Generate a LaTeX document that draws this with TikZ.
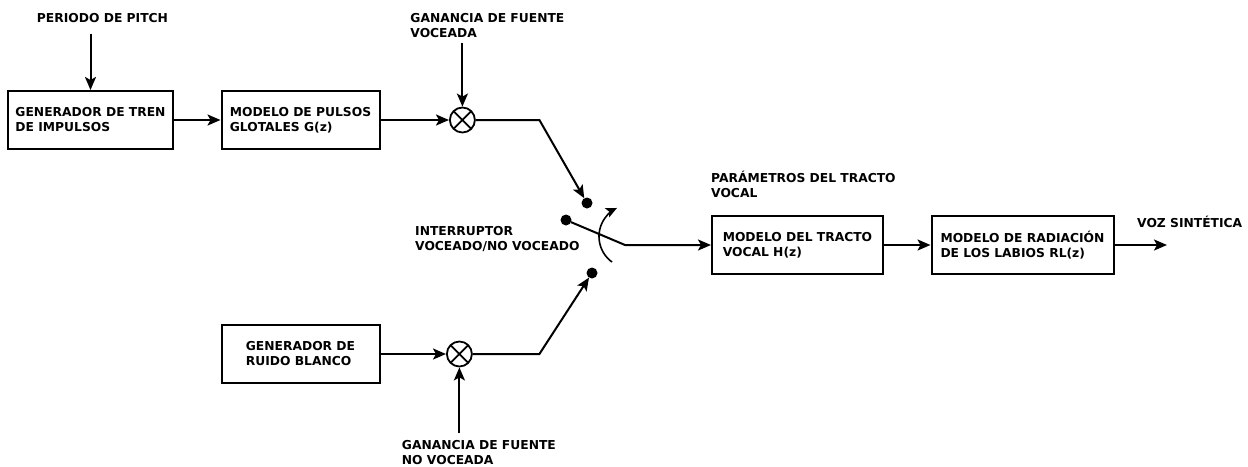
\documentclass[tikz,border=0pt]{standalone}
\usepackage{fontspec}
\setmainfont{DejaVu Sans}
\usetikzlibrary{positioning}
\usetikzlibrary{arrows.meta}
\newcommand{\lblfont}{\fontsize{12.3}{15}\selectfont\bfseries}

\begin{document}
\begin{tikzpicture}[
        x = 1pt,
        y = -1pt,
        blk/.style = {
            draw,
            line width = 2pt,
            align = left,
            font = \lblfont,
            minimum width = #1,
            minimum height = 58pt,
            inner sep = 4pt
        },
        blk/.default = 160pt,
        mul/.style = {
            draw,
            circle,
            line width = 1.8pt,
            minimum size = 25pt,
            inner sep = 0pt,
            path picture = {
                \draw[line width = 1.8pt]
                    (path picture bounding box.north west) -- (path picture bounding box.south east)
                    (path picture bounding box.north east) -- (path picture bounding box.south west);
            }
        },
        swdot/.style = {
            circle,
            fill,
            minimum size = 11pt,
            inner sep = 0pt,
            outer sep = 0pt
        },
        lbl/.style = {font = \lblfont, align = left, inner sep = 0pt},
        arr/.style = {line width = 2pt, -{Stealth[length = 13pt, width = 11pt, inset = 3pt]}}
            ]
            \useasboundingbox (0,0) rectangle (1248,466);

            % fuentes
            \node[blk=165pt] (gen) at (90.5,120) {GENERADOR DE TREN\\DE IMPULSOS};
            \node[blk=158pt, right=46.5pt of gen] (glot) {MODELO DE PULSOS\\GLOTALES G(z)};
            \node[mul, right=68.5pt of glot] (mulv) {};
            \node[blk=158pt, below=174pt of glot] (ruido) {GENERADOR DE\\RUIDO BLANCO};
            \node[mul, right=65.5pt of ruido] (mulu) {};

            % tracto y labios
            \node[blk=171pt] (tracto) at (797.5,245) {MODELO DEL TRACTO\\VOCAL H(z)};
            \node[blk=182pt, right=46.5pt of tracto] (labios) {MODELO DE RADIACIÓN\\DE LOS LABIOS RL(z)};

            % etiquetas
            \node[lbl, above=67.5pt of gen, xshift=12pt] (pitch) {PERIODO DE PITCH};
            \node[lbl, above=69pt of mulv, xshift=25pt] (gv) {GANANCIA DE FUENTE\\VOCEADA};
            \node[lbl, below=73pt of mulu, xshift=19.5pt] (gu) {GANANCIA DE FUENTE\\NO VOCEADA};
            \node[lbl, anchor=north west] (swlbl) at (415,226.5) {INTERRUPTOR\\VOCEADO/NO VOCEADO};
            \node[lbl, above right=17.5pt and 0pt of tracto.north west] (param) {PARÁMETROS DEL TRACTO\\VOCAL};
            \node[lbl, anchor=base west] (voz) at (1137,227.5) {VOZ SINTÉTICA};

            % interruptor
            \node[swdot] (vdot) at (587,203) {};
            \node[swdot] (pdot) at (566,220) {};
            \node[swdot] (udot) at (592,273) {};
            \coordinate (pivot) at (625,245);
            \coordinate (arcc) at (630.6,236.5);
            \path (mulv) ++(77pt,0pt) coordinate (kv);
            \path (mulu) ++(80pt,0pt) coordinate (ku);
            \coordinate (vout) at (1167,245);

            \draw[arr, shorten <=11pt] (pitch.south -| gen.north) -- (gen);
            \draw[arr] (gen) -- (glot);
            \draw[arr] (glot) -- (mulv);
            \draw[arr, shorten <=5pt] (gv.south -| mulv.north) -- (mulv);
            \draw[arr] (mulv) -- (kv) -- (vdot);

            \draw[arr] (ruido) -- (mulu);
            \draw[arr, shorten <=7pt] (gu.north -| mulu.south) -- (mulu);
            \draw[arr] (mulu) -- (ku) -- (udot);

            \draw[arr] (pdot) -- (pivot) -- (tracto);
            \draw[line width = 1.6pt, -{Stealth[length = 11pt, width = 10pt, inset = 2.5pt]}]
                ([shift={(234:31.6pt)}]arcc) arc[start angle=234, end angle=115.5, radius=31.6pt];

            \draw[arr] (tracto) -- (labios);
            \draw[arr] (labios) -- (vout);

        \end{tikzpicture}
\end{document}
